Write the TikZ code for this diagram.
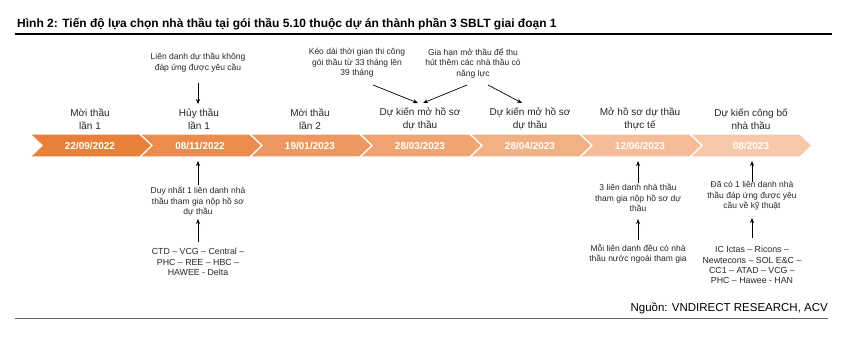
\documentclass[tikz,border=0pt]{standalone}
\usepackage{fontspec}
\setmainfont{Liberation Sans}
\usetikzlibrary{arrows.meta}
\definecolor{segA}{RGB}{232,128,58}
\definecolor{segB}{RGB}{247,200,170}
\tikzset{
  arr/.style={-{Stealth[length=5pt,width=4pt]}, line width=0.7pt, black},
  lbl/.style={align=center, inner sep=0pt, font=\fontsize{10}{12.5}\selectfont, text=black!85},
  note/.style={align=center, inner sep=0pt, font=\fontsize{8.5}{10.5}\selectfont, text=black!85},
  list/.style={align=center, inner sep=0pt, font=\fontsize{8.8}{10.2}\selectfont, text=black!85},
  date/.style={inner sep=0pt, font=\bfseries\fontsize{10}{12}\selectfont, text=white},
}
\begin{document}
\begin{tikzpicture}[x=1pt,y=-1pt]
\useasboundingbox (0,0) rectangle (850,361);
% title
\node[anchor=base west, inner sep=0pt, font=\bfseries\fontsize{12}{14}\selectfont] (title) at (17,28)
  {Hình 2: Tiến độ lựa chọn nhà thầu tại gói thầu 5.10 thuộc dự án thành phần 3 SBLT giai đoạn 1};
\draw[line width=1.6pt] (15,34) -- (832,34);
% chevron band
\foreach \k in {0,...,6}{
  \pgfmathsetmacro{\L}{30+110*\k}
  \pgfmathsetmacro{\pct}{\k*100/6}
  \fill[segB!\pct!segA, draw=white, line width=1.2pt]
    (\L,134) -- (\L+110,134) -- (\L+122,145.5) -- (\L+110,157) -- (\L,157) -- (\L+12,145.5) -- cycle;
}
\node[date] (d1) at (90,145.5) {22/09/2022};
\node[date] (d2) at (200,145.5) {08/11/2022};
\node[date] (d3) at (310,145.5) {19/01/2023};
\node[date] (d4) at (420,145.5) {28/03/2023};
\node[date] (d5) at (530,145.5) {28/04/2023};
\node[date] (d6) at (640,145.5) {12/06/2023};
\node[date] (d7) at (751,145.5) {08/2023};
% labels above
\node[lbl] (l1) at (90,119) {Mời thầu\\lần 1};
\node[lbl] (l2) at (199,119) {Hủy thầu\\lần 1};
\node[lbl] (l3) at (310,119) {Mời thầu\\lần 2};
\node[lbl] (l4) at (420,119) {Dự kiến mở hồ sơ\\dự thầu};
\node[lbl] (l5) at (530,119) {Dự kiến mở hồ sơ\\dự thầu};
\node[lbl] (l6) at (640,119) {Mở hồ sơ dự thầu\\thực tế};
\node[lbl] (l7) at (751,119) {Dự kiến công bố\\nhà thầu};
% top notes
\node[note] (t1) at (198,62.5) {Liên danh dự thầu không\\đáp ứng được yêu cầu};
\node[note] (t2) at (357,63) {Kéo dài thời gian thi công\\gói thầu từ 33 tháng lên\\39 tháng};
\node[note] (t3) at (473,63) {Gia hạn mở thầu để thu\\hút thêm các nhà thầu có\\năng lực};
\coordinate (t1s) at (198,83);
\coordinate (t1e) at (198,104);
\coordinate (t2s) at (373,85);
\coordinate (t2e) at (418,103);
\coordinate (t3s) at (467,85);
\coordinate (t3e) at (423,103);
\coordinate (t3s2) at (488,85);
\coordinate (t3e2) at (522,103);
\draw[arr] (t1s) -- (t1e);
\draw[arr] (t2s) -- (t2e);
\draw[arr] (t3s) -- (t3e);
\draw[arr] (t3s2) -- (t3e2);
% bottom notes, column 2
\node[note] (b1) at (198,201.5) {Duy nhất 1 liên danh nhà\\thầu tham gia nộp hồ sơ\\dự thầu};
\node[list] (c1) at (198,262) {CTD – VCG – Central –\\PHC – REE – HBC –\\HAWEE - Delta};
\coordinate (b1s) at (198,185);
\coordinate (b1e) at (198,161);
\coordinate (c1s) at (198,242);
\coordinate (c1e) at (198,219);
\draw[arr] (b1s) -- (b1e);
\draw[arr] (c1s) -- (c1e);
% column 6
\node[note] (b6) at (638,198) {3 liên danh nhà thầu\\tham gia nộp hồ sơ dự\\thầu};
\node[note] (c6) at (638,253.5) {Mỗi liên danh đều có nhà\\thầu nước ngoài tham gia};
\coordinate (b6s) at (638,183);
\coordinate (b6e) at (638,161);
\coordinate (c6s) at (638,240);
\coordinate (c6e) at (638,219);
\draw[arr] (b6s) -- (b6e);
\draw[arr] (c6s) -- (c6e);
% column 7
\node[note] (b7) at (752,196) {Đã có 1 liên danh nhà\\thầu đáp ứng được yêu\\cầu về kỹ thuật};
\node[list] (c7) at (752,265) {IC Ictas – Ricons –\\Newtecons – SOL E\&C –\\CC1 – ATAD – VCG –\\PHC – Hawee - HAN};
\coordinate (b7s) at (752,182);
\coordinate (b7e) at (752,161);
\coordinate (c7s) at (752,238);
\coordinate (c7e) at (752,218);
\draw[arr] (b7s) -- (b7e);
\draw[arr] (c7s) -- (c7e);
% source
\node[anchor=base east, inner sep=0pt, font=\fontsize{11.5}{13}\selectfont] (src) at (828,311) {Nguồn: VNDIRECT RESEARCH, ACV};
\draw[line width=1pt, black!60] (15,318) -- (828,318);
\end{tikzpicture}
\end{document}
